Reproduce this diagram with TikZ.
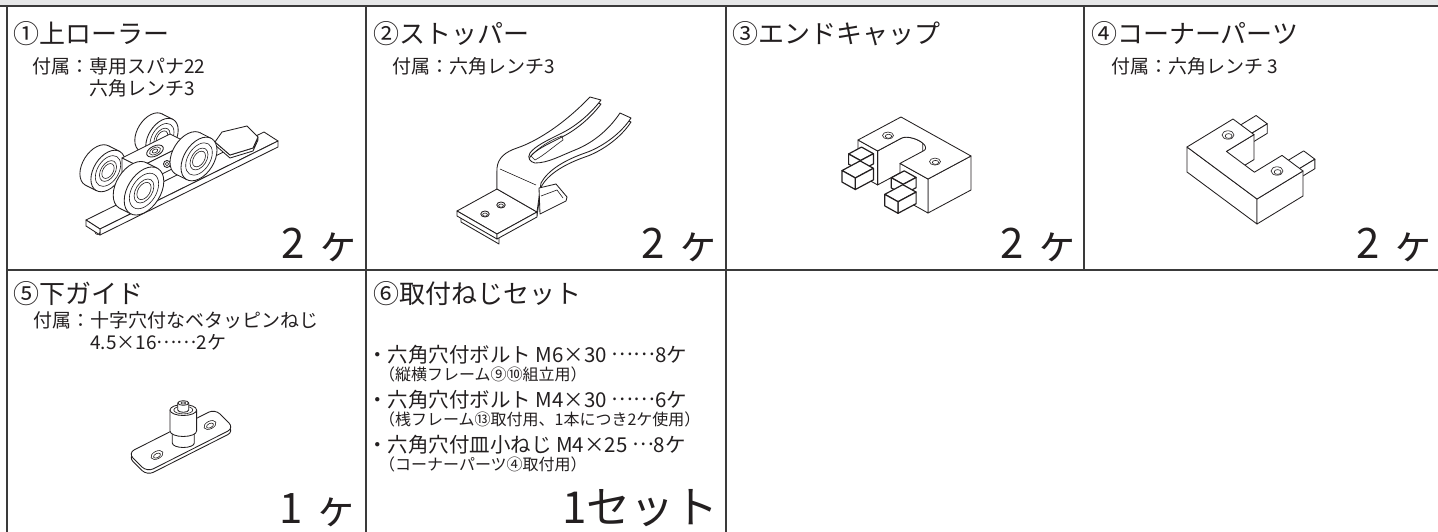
\documentclass[tikz,border=0pt]{standalone}
\usepackage{fontspec}
\setmainfont{Noto Sans CJK JP}
\usetikzlibrary{calc}
\definecolor{ink}{HTML}{231F20}
\definecolor{gridc}{HTML}{3A3A3A}
\definecolor{band}{HTML}{E6E7E8}
\tikzset{
  ttl/.style={anchor=base west, inner sep=0pt, text=ink, font=\fontsize{26}{30}\selectfont},
  sub/.style={anchor=base west, inner sep=0pt, text=ink, font=\fontsize{19}{22}\selectfont},
  qty/.style={anchor=base east, inner sep=0pt, text=ink, font=\fontsize{42}{46}\selectfont},
  bul/.style={anchor=base west, inner sep=0pt, text=ink, font=\fontsize{20.5}{24}\selectfont},
  note/.style={anchor=base west, inner sep=0pt, text=ink, font=\fontsize{16}{19}\selectfont},
  part/.style={draw=ink, line width=0.85pt, fill=white, line join=round},
  thin/.style={draw=ink, line width=0.6pt},
  tabface/.style={draw=ink, line width=1.2pt, fill=white, line join=round},
  rule/.style={draw=gridc, line width=1.3pt},
}
\newcommand\jdots{\raisebox{0.3em}{……}}
\newcommand\jdot{\raisebox{0.3em}{…}}
% wheel: front centre (#1,#2), radius #3, axle offset to back face (#4,#5)
\newcommand\rollerwheel[5]{%
  \begin{scope}[shift={({#1-#4},{#2-#5})},x={(0.9pt,0.44pt)},y={(0pt,-1pt)}]
    \draw[part] (0,0) circle[radius=#3];
  \end{scope}
  \fill[white] ({#1-#4+0.6*#3},{#2-#5-1.038*#3}) -- ({#1+0.6*#3},{#2-1.038*#3})
     -- ({#1-0.6*#3},{#2+1.038*#3}) -- ({#1-#4-0.6*#3},{#2-#5+1.038*#3}) -- cycle;
  \draw[ink,line width=0.85pt] ({#1-#4+0.6*#3},{#2-#5-1.038*#3}) -- ({#1+0.6*#3},{#2-1.038*#3});
  \draw[ink,line width=0.85pt] ({#1-#4-0.6*#3},{#2-#5+1.038*#3}) -- ({#1-0.6*#3},{#2+1.038*#3});
  \begin{scope}[shift={(#1,#2)},x={(0.9pt,0.44pt)},y={(0pt,-1pt)}]
    \draw[part] (0,0) circle[radius=#3];
    \draw[thin] (0,0) circle[radius={0.74*#3}];
    \draw[thin] (0,0) circle[radius={0.5*#3}];
    \draw[thin] (0,0) circle[radius={0.36*#3}];
  \end{scope}}
% end-cap clip: u from #1 to #2, depth from #3 to #4, sticks out to v=#5
\newcommand\capTab[5]{%
  \draw[tabface] (#1,1,#3) -- (#2,1,#3) -- (#2,#5,#3) -- (#1,#5,#3) -- cycle;
  \draw[tabface] (#2,1,#3) -- (#2,#5,#3) -- (#2,#5,#4) -- (#2,1,#4) -- cycle;
  \draw[tabface] (#1,#5,#3) -- (#2,#5,#3) -- (#2,#5,#4) -- (#1,#5,#4) -- cycle;}
% corner-part tab: a from #1 to #2, out to b=#3, depth #4..#5
\newcommand\cornerTab[5]{%
  \draw[part] (#1,1,#4) -- (#2,1,#4) -- (#2,#3,#4) -- (#1,#3,#4) -- cycle;
  \draw[part] (#2,1,#4) -- (#2,#3,#4) -- (#2,#3,#5) -- (#2,1,#5) -- cycle;}
% stopper fork outline
\newcommand\forkpath{(497,189) -- (497,168)
  .. controls (498,158) and (505,152) .. (517,148)
  .. controls (535,142) and (562,126) .. (590,97) -- (601,100)
  .. controls (592,112) and (578,125) .. (562,133)
  .. controls (548,140) and (535,146) .. (530,153)
  .. controls (527,158) and (530,162) .. (535,163)
  .. controls (548,163) and (560,156) .. (575,150)
  .. controls (595,142) and (610,128) .. (620,113) -- (631,118)
  .. controls (620,135) and (600,148) .. (585,153)
  .. controls (565,160) and (548,170) .. (541,183) -- (537,212) -- cycle}
\begin{document}
\begin{tikzpicture}[x=1pt,y=-1pt]
\useasboundingbox (0,0) rectangle (1438,532);
\fill[white] (0,0) rectangle (1438,532);
% ---------- frame ----------
\fill[band] (0,0) rectangle (1438,5.5);
\draw[gridc, line width=1.8pt] (0,6) -- (1438,6);
\draw[rule] (7,6) -- (7,532);
\draw[rule] (366,6) -- (366,532);
\draw[rule] (726,6) -- (726,532);
\draw[rule] (1084,6) -- (1084,270);
\draw[rule] (7,270) -- (1438,270);

% ---------- texts ----------
\node[ttl] (t1) at (13,44) {①上ローラー};
\node[sub] (s1a) at (32,74) {付属：専用スパナ22};
\node[sub] (s1b) at (89,96) {六角レンチ3};
\node[qty] (q1) at (360,258) {2\hspace{0.3em}ヶ};

\node[ttl] (t2) at (373,44) {②ストッパー};
\node[sub] (s2a) at (392,74) {付属：六角レンチ3};
\node[qty] (q2) at (720,258) {2\hspace{0.3em}ヶ};

\node[ttl] (t3) at (732,44) {③エンドキャップ};
\node[qty] (q3) at (1079,258) {2\hspace{0.3em}ヶ};

\node[ttl] (t4) at (1091,44) {④コーナーパーツ};
\node[sub] (s4a) at (1111,74) {付属：六角レンチ 3};
\node[qty] (q4) at (1435,258) {2\hspace{0.3em}ヶ};

\node[ttl] (t5) at (13,303) {⑤下ガイド};
\node[sub] (s5a) at (33,327) {付属：十字穴付なベタッピンねじ};
\node[sub] (s5b) at (90,349) {4.5×16\jdots 2ケ};
\node[qty] (q5) at (358,523) {1\hspace{0.3em}ヶ};

\node[ttl] (t6) at (373,303) {⑥取付ねじセット};
\node[bul] (b1) at (367,362) {・六角穴付ボルト M6×30 \jdots 8ケ};
\node[note] (n1) at (379,380) {（縦横フレーム⑨⑩組立用）};
\node[bul] (b2) at (367,407) {・六角穴付ボルト M4×30 \jdots 6ケ};
\node[note] (n2) at (379,425) {（桟フレーム⑬取付用、1本につき2ケ使用）};
\node[bul] (b3) at (367,452) {・六角穴付皿小ねじ M4×25 \jdot 8ケ};
\node[note] (n3) at (379,470) {（コーナーパーツ④取付用）};
\node[anchor=base east, inner sep=0pt, text=ink, font=\fontsize{44}{48}\selectfont] (q6) at (719,523) {1セット};

% ---------- part 1 : upper roller ----------
\draw[part] (86,220) -- (264,132) -- (278,141) -- (100,229) -- cycle;
\draw[part] (100,229) -- (278,141) -- (278,147) -- (100,235) -- cycle;
\draw[part] (86,220) -- (100,229) -- (100,235) -- (86,226) -- cycle;
\draw[thin] (95,232) arc[start angle=180, end angle=360, x radius=2.5pt, y radius=2.5pt];
\draw[part] (215,142) -- (215,145) -- (230,158) -- (253,151) -- (258,140) -- (258,137) -- (253,148) -- (230,155) -- cycle;
\draw[part] (215,142) -- (222,132) -- (247,126) -- (258,137) -- (253,148) -- (230,155) -- cycle;
\rollerwheel{162}{138}{18}{11}{5.5}
\rollerwheel{108}{171}{19}{11}{5.5}
\draw[part] (122,158) -- (170,134) -- (188,143) -- (140,167) -- cycle;
\draw[part] (140,167) -- (188,143) -- (188,161) -- (140,185) -- cycle;
\draw[part] (122,158) -- (140,167) -- (140,185) -- (122,176) -- cycle;
\draw[part, rotate around={26.6:(155,151)}] (155,151) ellipse[x radius=9pt, y radius=5pt];
\draw[thin, rotate around={26.6:(155,151)}] (155,151) ellipse[x radius=6pt, y radius=3.3pt];
\draw[thin, rotate around={26.6:(155,151)}] (155,151) ellipse[x radius=3pt, y radius=1.7pt];
\draw[part] (167,164) circle[radius=3.5pt];
\draw[thin] (167,164) circle[radius=1.8pt];
\rollerwheel{199}{159}{20}{11}{5.5}
\rollerwheel{144}{191}{22}{11}{5.5}

% ---------- part 2 : stopper ----------
\draw[part, shift={(0,4)}] \forkpath;
\draw[part] (461,215) -- (499,237) -- (499,244) -- (461,222) -- cycle;
\draw[part] (457,211) -- (497,189) -- (537,212) -- (497,234) -- cycle;
\draw[part] (457,211) -- (497,234) -- (497,239) -- (457,216) -- cycle;
\draw[part] (497,234) -- (537,212) -- (537,217) -- (497,239) -- cycle;
\draw[part] (485,214) ellipse[x radius=4.2pt, y radius=3pt];
\draw[thin] (485,214.6) ellipse[x radius=2.4pt, y radius=1.6pt];
\draw[part] (501,205) ellipse[x radius=4.2pt, y radius=3pt];
\draw[thin] (501,205.6) ellipse[x radius=2.4pt, y radius=1.6pt];
\draw[part] \forkpath;
\draw[thin] (531,156) .. controls (538,148) and (550,140) .. (562,136) -- (563,140)
  .. controls (553,147) and (543,156) .. (535,160) -- cycle;
\draw[thin] (500,169) -- (536,185);
\draw[part] (539,188) -- (556,184) -- (567,197) -- (566,201) -- (540,214) -- cycle;
\draw[thin] (541,196) -- (557,190) -- (563,198);

% ---------- part 3 : end cap ----------
\begin{scope}[shift={(901,117)}, x={(70pt,-39pt)}, y={(-43pt,-23pt)}, z={(0pt,-34pt)}]
  \draw[part] (1,0,0) -- (1,1,0) -- (1,1,1) -- (1,0,1) -- cycle;
  \draw[part] (0.28,1,0)
     -- plot[domain=180:290, samples=12] ({0.44+0.16*cos(\x)},{0.45+0.16*sin(\x)},0)
     -- plot[domain=290:180, samples=12] ({0.44+0.16*cos(\x)},{0.45+0.16*sin(\x)},1)
     -- (0.28,1,1) -- cycle;
  \draw[part] (0,1,0) -- (0.28,1,0) -- (0.28,1,1) -- (0,1,1) -- cycle;
  \draw[part] (0.6,1,0) -- (1,1,0) -- (1,1,1) -- (0.6,1,1) -- cycle;
  \draw[part] (0,0,0) -- (1,0,0) -- (1,1,0) -- (0.6,1,0) -- (0.6,0.45,0)
     -- plot[domain=0:-180, samples=19] ({0.44+0.16*cos(\x)},{0.45+0.16*sin(\x)},0)
     -- (0.28,1,0) -- (0,1,0) -- cycle;
  \capTab{0.05}{0.22}{0.15}{0.45}{1.3}
  \capTab{0.03}{0.22}{0.58}{0.92}{1.42}
  \capTab{0.66}{0.83}{0.15}{0.45}{1.3}
  \capTab{0.64}{0.83}{0.58}{0.92}{1.42}
\end{scope}
\draw[thin, fill=white] (888,135.5) ellipse[x radius=5.5pt, y radius=3.5pt];
\draw[thin] (888.5,136.3) ellipse[x radius=3.2pt, y radius=2pt];
\draw[thin, fill=white] (935,161.6) ellipse[x radius=5.5pt, y radius=3.5pt];
\draw[thin] (935.5,162.4) ellipse[x radius=3.2pt, y radius=2pt];

% ---------- part 4 : corner parts ----------
\begin{scope}[shift={(1187,147)}, x={(70pt,-52pt)}, y={(46pt,28pt)}, z={(0pt,-25pt)}]
  \cornerTab{0.08}{0.24}{1.38}{0.12}{0.5}
  \cornerTab{0.76}{0.92}{1.38}{0.12}{0.5}
  \draw[part] (0.3,0.4,0) -- (0.3,1,0) -- (0.3,1,1) -- (0.3,0.4,1) -- cycle;
  \draw[part] (0,0,0) -- (1,0,0) -- (1,0,1) -- (0,0,1) -- cycle;
  \draw[part] (1,0,0) -- (1,1,0) -- (1,1,1) -- (1,0,1) -- cycle;
  \draw[part] (0,0,0) -- (1,0,0) -- (1,1,0) -- (0.7,1,0) -- (0.7,0.4,0)
     -- (0.3,0.4,0) -- (0.3,1,0) -- (0,1,0) -- cycle;
\end{scope}
\draw[thin, fill=white] (1228,135) ellipse[x radius=6pt, y radius=4.2pt];
\draw[thin] (1228.6,136) ellipse[x radius=3.5pt, y radius=2.4pt];
\draw[thin, fill=white] (1277,171) ellipse[x radius=6pt, y radius=4.2pt];
\draw[thin] (1277.6,172) ellipse[x radius=3.5pt, y radius=2.4pt];

% ---------- part 5 : lower guide ----------
\draw[part, rounded corners=7pt] (128,456.5) -- (215,412.5) -- (234,431.5) -- (147,475.5) -- cycle;
\draw[part, rounded corners=7pt] (128,453) -- (215,409) -- (234,428) -- (147,472) -- cycle;
\draw[thin, rotate around={26.8:(157,455)}] (157,455) ellipse[x radius=6.5pt, y radius=3.8pt];
\draw[thin, rotate around={26.8:(157,455.6)}] (157,455.6) ellipse[x radius=3.8pt, y radius=2.1pt];
\draw[thin, rotate around={26.8:(210,425)}] (210,425) ellipse[x radius=6.5pt, y radius=3.8pt];
\draw[thin, rotate around={26.8:(210,425.6)}] (210,425.6) ellipse[x radius=3.8pt, y radius=2.1pt];
\draw[part] (172.3,431) -- (172.3,443) arc[start angle=180, end angle=360, x radius=11pt, y radius=4.5pt] -- (194.3,431) -- cycle;
\draw[part] (170,410) -- (170,431) arc[start angle=180, end angle=360, x radius=13.3pt, y radius=5.5pt] -- (196.6,410) -- cycle;
\draw[part] (183.3,410) ellipse[x radius=13.3pt, y radius=5.5pt];
\draw[thin] (183.3,410) ellipse[x radius=9.5pt, y radius=3.9pt];
\draw[part] (177.8,403) -- (177.8,410) arc[start angle=180, end angle=360, x radius=5.5pt, y radius=2.3pt] -- (188.8,403) -- cycle;
\draw[part] (183.3,403) ellipse[x radius=5.5pt, y radius=2.3pt];
\draw[thin] (183.3,403) ellipse[x radius=2.3pt, y radius=1pt];
\end{tikzpicture}
\end{document}
